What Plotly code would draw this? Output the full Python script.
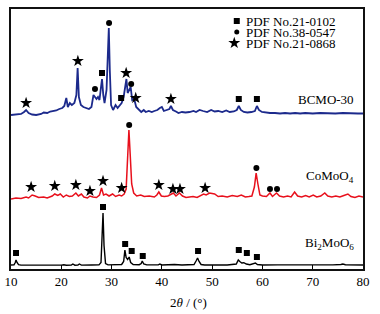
import plotly.graph_objects as go

# ---------------- data (2theta in degrees, intensity in a.u.) ----------------
tt_bmo = [10.0, 10.6, 10.85, 11.0, 11.2, 11.5, 12.0, 14.0, 16.0, 18.0, 20.0, 20.5, 21.0, 22.0, 22.3, 22.7,
          23.3, 23.6, 24.0, 26.0, 27.5, 27.9, 28.1, 28.3, 28.5, 28.8, 29.3, 31.0, 32.0, 32.4, 32.65,
          32.9, 33.2, 33.5, 33.8, 34.3, 35.5, 35.9, 36.1, 36.4, 37.0, 39.3, 39.6, 40.0, 42.5, 44.0,
          46.4, 46.8, 47.1, 47.4, 47.8, 48.5, 51.0, 53.0, 54.8, 55.2, 55.5, 55.9, 56.3, 56.8, 57.5,
          58.3, 58.6, 59.0, 60.0, 63.0, 66.0, 68.0, 70.0, 72.0, 74.0, 75.6, 76.0, 76.5, 78.0, 80.0]
int_bmo = [0.5, 0.6, 3.0, 5.5, 3.0, 0.8, 0.4, 0.3, 0.4, 0.5, 0.4, 0.8, 0.3, 0.4, 1.5, 0.3,
           0.4, 1.5, 0.4, 0.5, 0.6, 3.0, 22.0, 52.5, 20.0, 2.0, 0.6, 0.6, 1.0, 4.0, 15.5,
           8.0, 6.0, 8.5, 3.0, 1.0, 0.8, 2.0, 4.5, 1.5, 0.6, 0.6, 1.5, 0.5, 1.0, 0.5,
           1.0, 4.5, 7.5, 4.0, 1.0, 0.5, 0.6, 0.5, 1.5, 5.5, 4.0, 2.5, 2.8, 1.5, 0.8,
           1.5, 2.5, 1.0, 0.5, 0.6, 0.5, 0.8, 0.6, 0.5, 0.6, 1.0, 1.5, 0.8, 0.5, 0.5]

tt_como = [10.0, 11.0, 12.0, 13.0, 13.5, 14.2, 14.8, 15.5, 16.5, 17.2, 18.2, 18.7, 19.3, 19.8, 20.4,
           21.0, 21.6, 22.2, 22.9, 23.4, 24.0, 24.5, 25.2, 25.7, 26.3, 27.0, 27.6, 28.0, 28.4,
           28.9, 29.5, 30.2, 30.8, 31.5, 32.0, 32.5, 32.9, 33.2, 33.45, 33.7, 34.0, 34.4, 35.0,
           35.8, 36.5, 37.5, 38.5, 39.0, 39.4, 39.9, 40.5, 41.2, 41.8, 42.3, 42.8, 43.5, 44.1,
           44.8, 45.5, 46.2, 47.0, 47.7, 48.3, 48.8, 49.5, 50.5, 51.2, 52.0, 53.0, 54.0, 55.0,
           55.8, 56.6, 57.3, 57.9, 58.4, 58.75, 59.1, 59.5, 60.0, 60.8, 61.5, 62.0, 62.8, 63.4,
           64.2, 65.0, 65.7, 66.4, 67.0, 67.8, 68.6, 69.3, 70.1, 70.8, 71.6, 72.4, 73.0, 73.8,
           74.6, 75.4, 76.2, 77.0, 77.6, 78.4, 79.2, 80.0]
int_como = [0.0, 1.0, 0.5, 2.0, 1.0, 4.0, 3.0, 1.5, 2.0, 1.0, 3.0, 5.0, 3.5, 5.0, 2.0,
            4.0, 2.5, 3.0, 6.0, 3.0, 5.0, 2.0, 1.0, 3.0, 2.0, 1.5, 4.0, 11.0, 4.0,
            5.0, 3.0, 5.0, 2.5, 4.0, 3.0, 5.0, 10.0, 40.0, 69.0, 45.0, 15.0, 6.0, 3.0,
            4.0, 2.5, 3.0, 2.0, 4.0, 7.0, 3.0, 2.5, 3.0, 5.0, 6.0, 3.0, 6.0, 3.0,
            1.5, 2.0, 2.5, 1.5, 3.0, 5.0, 4.0, 6.0, 5.0, 2.5, 3.0, 2.0, 3.5, 2.5,
            4.0, 2.0, 2.5, 3.0, 12.0, 26.0, 15.0, 4.0, 3.0, 2.5, 6.0, 2.5, 6.0, 3.0,
            2.0, 3.0, 2.0, 7.0, 3.0, 2.0, 3.5, 2.0, 4.0, 2.0, 3.0, 6.0, 3.0, 2.0,
            3.0, 2.0, 3.5, 5.0, 2.5, 1.5, 3.0, 2.0]

tt_bcmo = [10.0, 11.0, 12.0, 12.6, 13.0, 13.5, 14.2, 15.0, 16.0, 16.5, 17.2, 17.8, 18.4, 19.0,
           19.6, 20.2, 20.6, 21.0, 21.3, 21.7, 22.1, 22.6, 23.0, 23.25, 23.5, 23.9, 24.4, 25.0,
           25.5, 26.0, 26.4, 26.7, 27.0, 27.3, 27.6, 27.9, 28.1, 28.35, 28.6, 29.0, 29.25, 29.45,
           29.65, 29.9, 30.3, 30.8, 31.2, 31.6, 32.0, 32.4, 32.7, 32.95, 33.2, 33.5, 33.8, 34.1,
           34.5, 34.9, 35.4, 35.9, 36.4, 36.8, 37.4, 38.0, 38.5, 39.1, 39.6, 40.0, 40.4, 41.0,
           41.5, 41.8, 42.2, 42.8, 43.3, 44.0, 44.7, 45.5, 46.3, 46.8, 47.5, 48.2, 49.0, 49.8,
           50.5, 51.2, 52.0, 52.8, 53.5, 54.3, 54.9, 55.3, 55.7, 56.3, 57.0, 57.8, 58.5, 58.9,
           59.3, 59.9, 60.5, 61.5, 62.5, 63.5, 64.5, 65.5, 66.5, 67.5, 68.5, 70.0, 71.5, 73.0,
           74.5, 76.0, 77.5, 79.0, 80.0]
int_bcmo = [0.0, 0.5, 1.0, 3.0, 5.0, 2.0, 0.5, 0.0, 1.0, 2.5, 2.0, 3.5, 4.0, 4.5,
            6.0, 7.0, 9.0, 17.0, 8.0, 12.0, 10.0, 12.0, 20.0, 47.0, 18.0, 10.0, 8.0, 7.0,
            6.0, 8.0, 20.0, 18.0, 16.0, 18.0, 15.0, 28.0, 36.0, 20.0, 12.0, 25.0, 70.0, 87.0,
            45.0, 10.0, 5.0, 10.0, 7.0, 10.0, 12.0, 18.0, 30.0, 36.0, 22.0, 26.0, 28.0, 15.0,
            16.0, 8.0, 5.0, 3.0, 5.0, 3.0, 4.0, 3.0, 4.0, 5.0, 7.0, 8.0, 4.0, 5.0,
            6.0, 9.0, 5.0, 3.5, 2.0, 3.0, 2.5, 3.0, 4.0, 3.0, 5.0, 4.0, 3.0, 5.0,
            3.5, 4.0, 3.0, 4.5, 3.0, 3.5, 5.0, 9.0, 5.0, 3.0, 2.5, 3.0, 4.0, 9.0,
            5.0, 3.0, 2.5, 2.0, 2.0, 1.5, 2.0, 1.5, 2.0, 1.5, 2.0, 1.5, 2.0, 1.5,
            1.5, 2.0, 1.5, 1.5, 1.5]

# stacking offsets of the three patterns (a.u.)
offset_bmo, offset_como, offset_bcmo = 3.5, 70.0, 154.0

# phase marker positions (2theta, stacked a.u.)
sq_x = [28.1, 31.9, 55.3, 58.9, 11.0, 28.3, 32.7, 34.0, 36.2, 47.2, 55.3, 56.9, 58.9]
sq_y = [196, 171, 170, 170, 16, 62, 25, 18, 13, 18, 19, 16, 12]
ci_x = [26.7, 29.5, 33.9, 33.5, 58.8, 61.5, 62.9]
ci_y = [180, 246, 185, 144, 101, 80, 80]
st_x = [13.0, 23.3, 32.9, 34.8, 41.8, 14.0, 18.7, 22.9, 25.7, 28.3, 32.0, 39.4, 42.2, 43.6, 48.6]
st_y = [166, 208, 196, 171, 170, 82, 83, 84, 78, 88, 81, 84, 80, 80, 81]

legend_labels = ["PDF No.21-0102", "PDF No.38-0547", "PDF No.21-0868"]
sample_labels = ["BCMO-30", "CoMoO<sub>4</sub>", "Bi<sub>2</sub>MoO<sub>6</sub>"]
x_ticks = [10, 20, 30, 40, 50, 60, 70, 80]

# ---------------- figure ----------------
FONT = "Liberation Serif, Times New Roman, serif"
fig = go.Figure()

fig.add_trace(go.Scatter(x=tt_bmo, y=[v + offset_bmo for v in int_bmo], mode="lines",
                         line=dict(color="#000000", width=1.4), showlegend=False))
fig.add_trace(go.Scatter(x=tt_como, y=[v + offset_como for v in int_como], mode="lines",
                         line=dict(color="#e8101c", width=1.5), showlegend=False))
fig.add_trace(go.Scatter(x=tt_bcmo, y=[v + offset_bcmo for v in int_bcmo], mode="lines",
                         line=dict(color="#1c2a8c", width=1.8), showlegend=False))

fig.add_trace(go.Scatter(x=sq_x, y=sq_y, mode="markers",
                         marker=dict(symbol="square", size=6, color="black"), showlegend=False))
fig.add_trace(go.Scatter(x=ci_x, y=ci_y, mode="markers",
                         marker=dict(symbol="circle", size=6, color="black"), showlegend=False))
fig.add_trace(go.Scatter(x=st_x, y=st_y, mode="markers",
                         marker=dict(symbol="star", size=9, color="black"), showlegend=False))

# legend glyphs (drawn as markers in data space)
leg_y = [248, 237, 226]
fig.add_trace(go.Scatter(x=[54.9], y=[leg_y[0]], mode="markers",
                         marker=dict(symbol="square", size=6, color="black"), showlegend=False))
fig.add_trace(go.Scatter(x=[54.9], y=[leg_y[1]], mode="markers",
                         marker=dict(symbol="circle", size=5, color="black"), showlegend=False))
fig.add_trace(go.Scatter(x=[54.4], y=[leg_y[2]], mode="markers",
                         marker=dict(symbol="star", size=9, color="black"), showlegend=False))

annotations = []
for lab, yy in zip(legend_labels, leg_y):
    annotations.append(dict(x=56.4, y=yy, xref="x", yref="y", text=lab, showarrow=False,
                            xanchor="left", yanchor="middle", font=dict(family=FONT, size=13, color="black")))
for lab, yy in zip(sample_labels, [170, 93, 26]):
    annotations.append(dict(x=78.6, y=yy, xref="x", yref="y", text=lab, showarrow=False,
                            xanchor="right", yanchor="middle", font=dict(family=FONT, size=13, color="black")))
annotations.append(dict(x=0.505, y=-0.13, xref="paper", yref="paper", text="2<i>θ</i> / (°)",
                        showarrow=False, xanchor="center", yanchor="middle",
                        font=dict(family=FONT, size=13, color="black")))

fig.update_layout(
    width=380, height=314,
    margin=dict(l=11, r=17, t=9, b=45, autoexpand=False),
    paper_bgcolor="white", plot_bgcolor="white",
    annotations=annotations,
    xaxis=dict(range=[10, 80], tickvals=x_ticks, ticks="inside", ticklen=4, tickwidth=1,
               tickcolor="black", showline=True, linecolor="#111111", linewidth=1.5,
               mirror=True, showgrid=False, zeroline=False, ticklabeloverflow="allow",
               automargin=False, tickfont=dict(family=FONT, size=13, color="black")),
    yaxis=dict(range=[0, 260], showticklabels=False, ticks="", showline=True, automargin=False,
               linecolor="#111111", linewidth=1.5, mirror=True, showgrid=False, zeroline=False),
)

# remove the default page margin so the 380x314 figure fills the window exactly
fig.write_html("out.html", config={"displayModeBar": False},
               post_script="document.body.style.margin='0';")
